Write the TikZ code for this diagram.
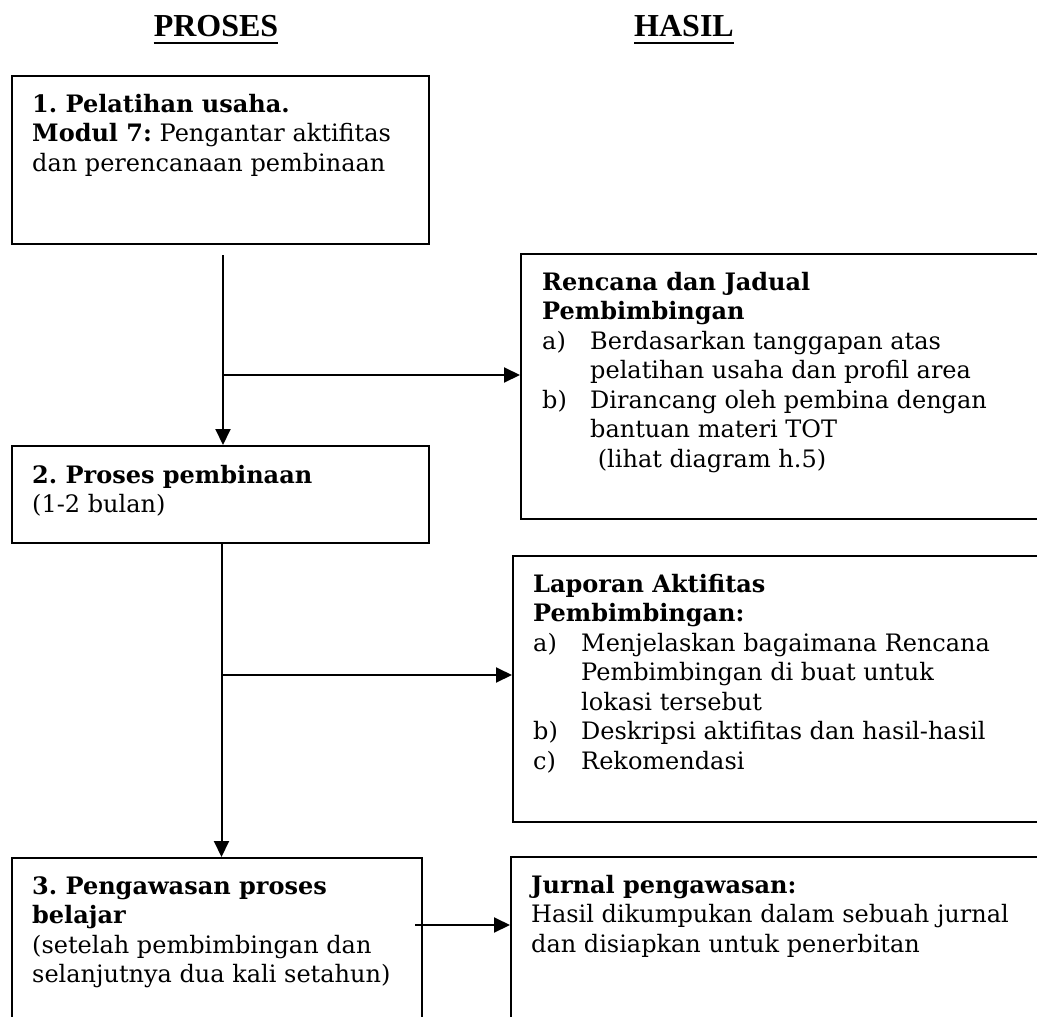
\documentclass[tikz,border=0pt]{standalone}
\usepackage{fontspec}
\setmainfont{DejaVu Serif}
\newfontfamily\headfont{Liberation Serif}
\usetikzlibrary{arrows.meta,calc}
\frenchspacing
\tikzset{
  box/.style={draw, line width=2pt, rectangle, anchor=north west, inner sep=0pt},
  txt/.style={anchor=base west, inner sep=0pt},
  arr/.style={line width=2pt, -{Triangle[length=16pt,width=15pt]}},
  ln/.style={line width=2pt},
  head/.style={font=\headfont\bfseries\fontsize{32}{36}\selectfont, anchor=base, inner sep=0pt}
}
\newcommand\bodytext[1]{\parbox[t]{560pt}{\fontsize{24}{29.5}\selectfont\frenchspacing #1}}
\newcommand\itm[2]{\makebox[48pt][l]{#1}#2}
\newcommand\cont{\hspace*{48pt}}
\begin{document}
\begin{tikzpicture}[x=1pt,y=-1pt]
\useasboundingbox (0,0) rectangle (1037,1017);
\clip (0,0) rectangle (1037,1017);
% headers
\node[head] (hp) at (216,36) {PROSES};
\node[head] (hh) at (684,36) {HASIL};
\draw[ln] ($(hp.south west)+(0,6)$) -- ($(hp.south east)+(0,6)$);
\draw[ln] ($(hh.south west)+(0,6)$) -- ($(hh.south east)+(0,6)$);
% boxes
\node[box, minimum width=417pt, minimum height=168pt] (b1) at (11,75) {};
\node[box, minimum width=417pt, minimum height=97pt] (b2) at (11,445) {};
\node[box, minimum width=410pt, minimum height=200pt] (b3) at (11,857) {};
\node[box, minimum width=560pt, minimum height=265pt] (r1) at (520,253) {};
\node[box, minimum width=560pt, minimum height=266pt] (r2) at (512,555) {};
\node[box, minimum width=560pt, minimum height=200pt] (r3) at (510,856) {};
% texts
\node[txt] (t1) at (32,112) {\bodytext{\textbf{1. Pelatihan usaha.}\\
  \textbf{Modul 7:} Pengantar aktifitas\\
  dan perencanaan pembinaan}};
\node[txt] (t2) at (32,483) {\bodytext{\textbf{2. Proses pembinaan}\\
  (1-2 bulan)}};
\node[txt] (t3) at (32,894) {\bodytext{\textbf{3. Pengawasan proses}\\
  \textbf{belajar}\\
  (setelah pembimbingan dan\\
  selanjutnya dua kali setahun)}};
\node[txt] (s1) at (542,290) {\bodytext{\textbf{Rencana dan Jadual}\\
  \textbf{Pembimbingan}\\
  \itm{a)}{Berdasarkan tanggapan atas}\\
  \cont pelatihan usaha dan profil area\\
  \itm{b)}{Dirancang oleh pembina dengan}\\
  \cont bantuan materi TOT\\
  \cont\ (lihat diagram h.5)}};
\node[txt] (s2) at (533,592) {\bodytext{\textbf{Laporan Aktifitas}\\
  \textbf{Pembimbingan:}\\
  \itm{a)}{Menjelaskan bagaimana Rencana}\\
  \cont Pembimbingan di buat untuk\\
  \cont lokasi tersebut\\
  \itm{b)}{Deskripsi aktifitas dan hasil-hasil}\\
  \itm{c)}{Rekomendasi}}};
\node[txt] (s3) at (531,893) {\bodytext{\textbf{Jurnal pengawasan:}\\
  Hasil dikumpukan dalam sebuah jurnal\\
  dan disiapkan untuk penerbitan}};
% connectors
\coordinate (v1s) at ($(b1.south)+(2.5,10)$);
\draw[arr] (v1s) -- (v1s |- b2.north);
\coordinate (j1) at ($(v1s)+(0,120)$);
\draw[arr] (j1) -- (j1 -| r1.west);
\coordinate (v2s) at ($(b2.south)+(1,0)$);
\draw[arr] (v2s) -- (v2s |- b3.north);
\coordinate (j2) at ($(v2s)+(0,131)$);
\draw[arr] (j2) -- (j2 -| r2.west);
\coordinate (j3) at ($(b3.north east)+(-8,68)$);
\draw[arr] (j3) -- (j3 -| r3.west);
\end{tikzpicture}
\end{document}
